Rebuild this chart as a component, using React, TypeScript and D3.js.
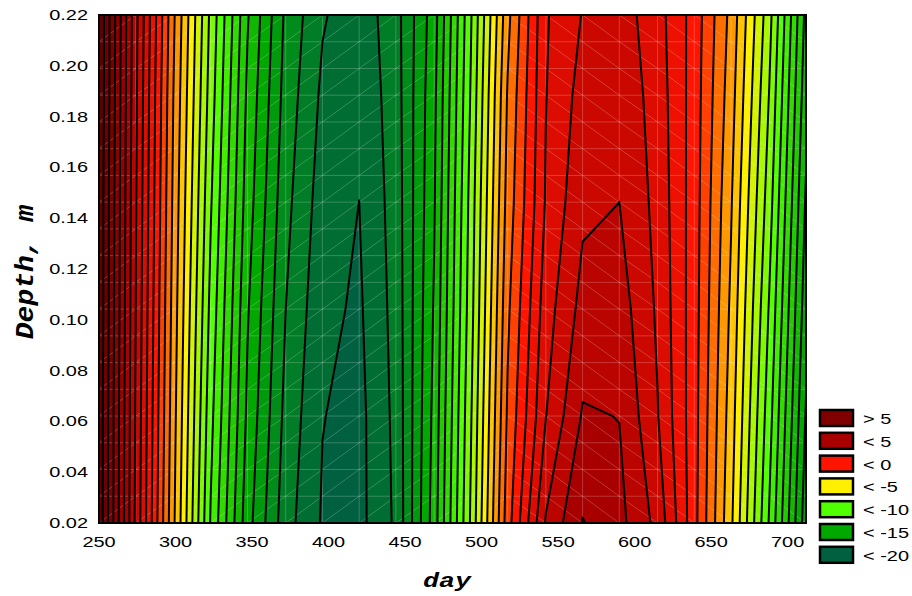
import React from 'react';
import * as d3 from 'd3';

// grid of the contour surface: days across, depths up
const days = [250, 274, 299, 323, 347, 372, 396, 420, 444, 469, 493, 517, 542, 566, 590, 615, 639, 663, 688, 712];
const depths = [0.02, 0.062, 0.104, 0.146, 0.188, 0.22];

// temperature, one row per depth
const t002 = [8.7, 1.8, -4.9, -11.1, -15.6, -18.6, -20.1, -20.3, -18.83, -14.5, -8.85, -2.45, 2.1, 4.05, 3.3, 1.7, -1.65, -5.8, -11.1, -16.6];
const t062 = [8.7, 1.9, -4.7, -10.7, -15.2, -18.3, -19.97, -20.3, -18.74, -14.7, -9.1, -2.85, 0.98, 3.1, 2.98, 1.05, -1.6, -5.5, -10.6, -16.1];
const t104 = [8.8, 2.0, -4.5, -10.3, -14.9, -18.0, -19.75, -20.15, -18.65, -14.9, -9.4, -3.2, 0.55, 2.35, 2.5, 0.85, -1.55, -5.2, -10.1, -15.6];
const t146 = [8.8, 2.1, -4.3, -9.9, -14.5, -17.7, -19.5, -20.005, -18.56, -15.1, -9.6, -3.6, 0.1, 1.8, 2.003, 0.7, -1.5, -4.9, -9.55, -15.15];
const t188 = [8.9, 2.2, -4.1, -9.5, -14.2, -17.4, -19.2, -19.8, -18.47, -15.25, -9.9, -3.9, -0.03, 1.4, 1.75, 0.55, -1.45, -4.55, -9.05, -14.65];
const t220 = [8.9, 2.3, -3.9, -9.25, -13.9, -17.2, -18.9, -19.6, -18.4, -15.45, -10.1, -4.3, -0.1, 1.05, 1.5, 0.4, -1.4, -4.3, -8.65, -14.3];
const rows = [t002, t062, t104, t146, t188, t220];

const levels = d3.range(-20, 10); // contour every 1 degree

const legendLabels = ['> 5', '< 5', '< 0', '< -5', '< -10', '< -15', '< -20'];
const legendColors = ['#800000', '#A80000', '#FF1400', '#FFF000', '#50FF00', '#00A800', '#006040'];
// band colour keyed to the band's upper level
const colorAnchors = [-20, -15, -10, -6, -1, 4, 9];
const anchorColors = ['#006040', '#00A800', '#50FF00', '#FFF000', '#FF1400', '#A80000', '#600000'];

const xTicks = [250, 300, 350, 400, 450, 500, 550, 600, 650, 700];
const yTicks = [0.02, 0.04, 0.06, 0.08, 0.10, 0.12, 0.14, 0.16, 0.18, 0.20, 0.22];

const W = 912, H = 596;
const plot = { left: 99, top: 15, right: 806, bottom: 523 };
const stretch = 'scale(1.33,1)';

export default function App() {
  const x = d3.scaleLinear().domain([days[0], days[days.length - 1]]).range([plot.left, plot.right]);
  const y = d3.scaleLinear().domain([depths[0], depths[depths.length - 1]]).range([plot.bottom, plot.top]);

  const color = d3.scaleLinear<string>().domain(colorAnchors).range(anchorColors).clamp(true);

  const nx = days.length, ny = depths.length;
  const values: number[] = [];
  rows.forEach(r => r.forEach(v => values.push(v)));

  const contours = d3.contours().size([nx, ny]).thresholds(levels).smooth(true)(values);

  // grid coords -> data, d3 puts sample i at i + 0.5
  const along = (arr: number[], g: number) => {
    const f = Math.max(0, Math.min(arr.length - 1, g - 0.5));
    const i = Math.min(arr.length - 2, Math.floor(f));
    return arr[i] + (f - i) * (arr[i + 1] - arr[i]);
  };
  const proj = d3.geoTransform({
    point(px: number, py: number) {
      (this as any).stream.point(x(along(days, px)), y(along(depths, py)));
    },
  });
  const path = d3.geoPath(proj);

  // faint seams of the triangulated mesh
  const meshDepths = d3.range(20).map(j => y.invert(plot.bottom - j * (plot.bottom - plot.top) / 19));
  const seams: string[] = [];
  for (let i = 0; i < nx - 1; i++) {
    for (let j = 0; j < meshDepths.length - 1; j++) {
      const x0 = x(days[i]), x1 = x(days[i + 1]);
      const y0 = y(meshDepths[j]), y1 = y(meshDepths[j + 1]);
      seams.push(i <= 10 ? `M${x0},${y0}L${x1},${y1}` : `M${x0},${y1}L${x1},${y0}`);
    }
  }
  days.forEach(d => seams.push(`M${x(d)},${plot.top}V${plot.bottom}`));
  meshDepths.forEach(d => seams.push(`M${plot.left},${y(d)}H${plot.right}`));

  const font = '"Liberation Sans", Arial, sans-serif';
  const mono = '"Liberation Mono", "Courier New", monospace';

  return (
    <svg width={W} height={H} style={{ position: 'absolute', left: 0, top: 0, background: '#fff' }}>
      <defs>
        <clipPath id="plotClip">
          <rect x={plot.left} y={plot.top} width={plot.right - plot.left} height={plot.bottom - plot.top} />
        </clipPath>
      </defs>

      <g clipPath="url(#plotClip)">
        <rect x={plot.left} y={plot.top} width={plot.right - plot.left} height={plot.bottom - plot.top} fill={color(levels[0])} />
        {contours.map(c => (
          <path key={'f' + c.value} d={path(c as any) || ''} fill={color(c.value + 1)} fillRule="evenodd" />
        ))}
        <path d={seams.join('')} stroke="#fff" strokeOpacity={0.3} strokeWidth={0.7} fill="none" />
        {contours.map(c => (
          <path key={'l' + c.value} d={path(c as any) || ''} fill="none" stroke="#000" strokeWidth={2} strokeLinejoin="round" />
        ))}
      </g>

      <rect x={plot.left} y={plot.top} width={plot.right - plot.left} height={plot.bottom - plot.top}
        fill="none" stroke="#000" strokeWidth={2} />

      {xTicks.map(t => (
        <text key={'x' + t} transform={`translate(${x(t)},${plot.bottom + 24}) ${stretch}`}
          textAnchor="middle" fontFamily={font} fontSize={15} fill="#000">{t}</text>
      ))}
      {yTicks.map(t => (
        <text key={'y' + t} transform={`translate(${plot.left - 11},${y(t) + 5}) ${stretch}`}
          textAnchor="end" fontFamily={font} fontSize={15} fill="#000">{t.toFixed(2)}</text>
      ))}

      <rect x={8} y={200} width={40} height={180} fill="#fff" />
      <text transform={`translate(33,272) rotate(-90) scale(1,0.95)`} textAnchor="middle"
        fontFamily={mono} fontWeight="bold" fontStyle="italic" fontSize={28}>Depth, m</text>
      <text transform={`translate(447,587) ${stretch}`} textAnchor="middle"
        fontFamily={mono} fontWeight="bold" fontStyle="italic" fontSize={20}>day</text>

      {legendLabels.map((lab, i) => (
        <g key={lab} transform={`translate(820,${410 + i * 22.8})`}>
          <rect x={0} y={0} width={33} height={16} fill={legendColors[i]} stroke="#000" strokeWidth={2.5} />
          <text transform={`translate(43,14) ${stretch}`} fontFamily={font} fontSize={15}>{lab}</text>
        </g>
      ))}
    </svg>
  );
}
